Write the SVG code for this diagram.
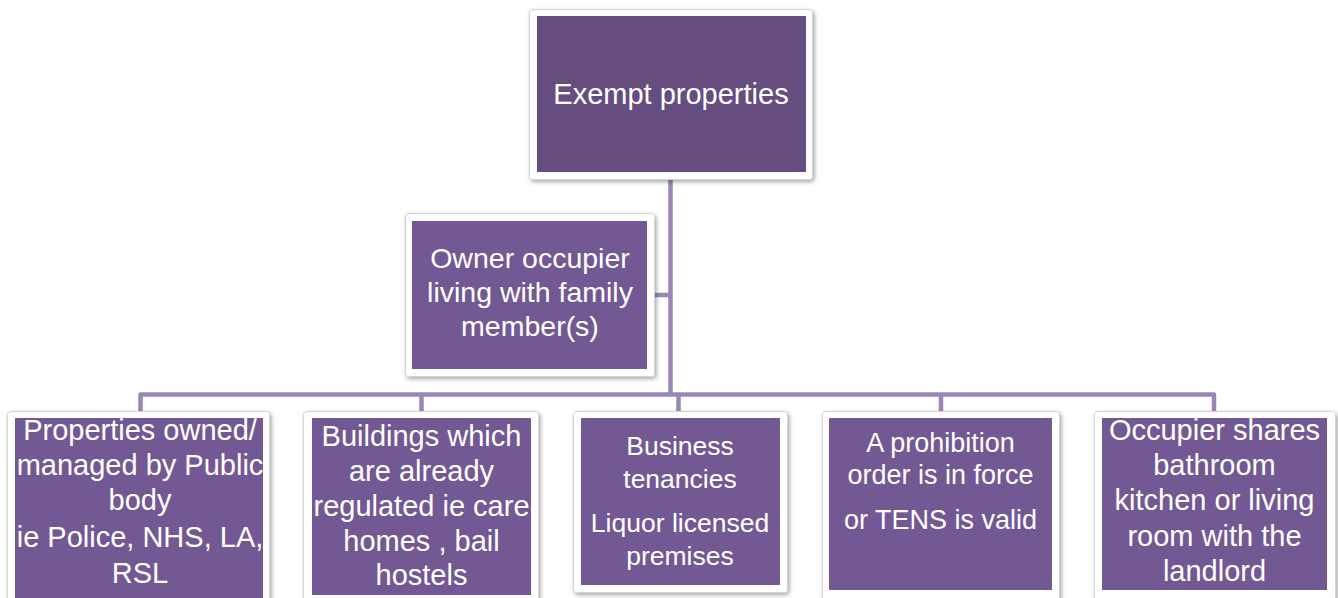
<svg xmlns="http://www.w3.org/2000/svg" width="1338" height="598" viewBox="0 0 1338 598">
<defs>
<filter id="sh" x="-10%" y="-10%" width="120%" height="120%">
<feDropShadow dx="1.5" dy="2" stdDeviation="2" flood-color="#000" flood-opacity="0.35"/>
</filter>
<style>
.frame{fill:#ffffff;stroke:#d4d4d4;stroke-width:1;filter:url(#sh)}
.box{fill:#735993}
.top{fill:#654e7f}
.t{font-family:"Liberation Sans",Arial,sans-serif;fill:#ffffff;text-anchor:middle}
.conn{fill:none;stroke:#9a86b6;stroke-width:4.5;stroke-linejoin:round}
</style>
</defs>
<rect width="1338" height="598" fill="#ffffff"/>
<g id="connectors">
<path class="conn" d="M670.5 180 V394.5"/>
<path class="conn" d="M654 295 H670.5"/>
<path class="conn" d="M140.5 411 V394.5 H1214 V411"/>
<path class="conn" d="M421.5 394.5 V411"/>
<path class="conn" d="M678.5 394.5 V411"/>
<path class="conn" d="M941 394.5 V411"/>
</g>
<g id="node-exempt">
<rect class="frame" x="529.5" y="9.5" width="283" height="170" rx="3"/>
<rect class="top" x="537" y="16" width="269" height="156"/>
<text class="t" x="671" y="104" font-size="29">Exempt properties</text>
</g>
<g id="node-owner">
<rect class="frame" x="405.5" y="213.5" width="249" height="163" rx="3"/>
<rect class="box" x="412" y="221" width="235" height="148"/>
<text class="t" font-size="28.5"><tspan x="530" y="268">Owner occupier</tspan><tspan x="530" y="302">living with family</tspan><tspan x="530" y="336">member(s)</tspan></text>
</g>
<g id="node-public">
<rect class="frame" x="7.5" y="411.5" width="262" height="195" rx="3"/>
<rect class="box" x="15" y="418" width="248" height="185"/>
<text class="t" font-size="29"><tspan x="140" y="440">Properties owned/</tspan><tspan x="140" y="475">managed by Public</tspan><tspan x="140" y="510">body</tspan><tspan x="140" y="547">ie Police, NHS, LA,</tspan><tspan x="140" y="583">RSL</tspan></text>
</g>
<g id="node-regulated">
<rect class="frame" x="303.5" y="411.5" width="235" height="195" rx="3"/>
<rect class="box" x="312" y="418" width="219" height="177"/>
<text class="t" font-size="29"><tspan x="421.5" y="446">Buildings which</tspan><tspan x="421.5" y="481">are already</tspan><tspan x="421.5" y="516">regulated ie care</tspan><tspan x="421.5" y="551">homes , bail</tspan><tspan x="421.5" y="585">hostels</tspan></text>
</g>
<g id="node-business">
<rect class="frame" x="573.5" y="411.5" width="214" height="181" rx="3"/>
<rect class="box" x="581" y="418" width="199" height="167"/>
<text class="t" font-size="26.5"><tspan x="680" y="455">Business</tspan><tspan x="680" y="488">tenancies</tspan><tspan x="680" y="532">Liquor licensed</tspan><tspan x="680" y="565">premises</tspan></text>
</g>
<g id="node-prohibition">
<rect class="frame" x="822.5" y="411.5" width="237" height="190" rx="3"/>
<rect class="box" x="829" y="418" width="223" height="172"/>
<text class="t" font-size="27"><tspan x="940.5" y="452">A prohibition</tspan><tspan x="940.5" y="484">order is in force</tspan><tspan x="940.5" y="529">or TENS is valid</tspan></text>
</g>
<g id="node-shares">
<rect class="frame" x="1094.5" y="411.5" width="241" height="190" rx="3"/>
<rect class="box" x="1102" y="418" width="225" height="172"/>
<text class="t" font-size="29"><tspan x="1214.5" y="440">Occupier shares</tspan><tspan x="1214.5" y="475">bathroom</tspan><tspan x="1214.5" y="510">kitchen or living</tspan><tspan x="1214.5" y="546">room with the</tspan><tspan x="1214.5" y="581">landlord</tspan></text>
</g>
</svg>
